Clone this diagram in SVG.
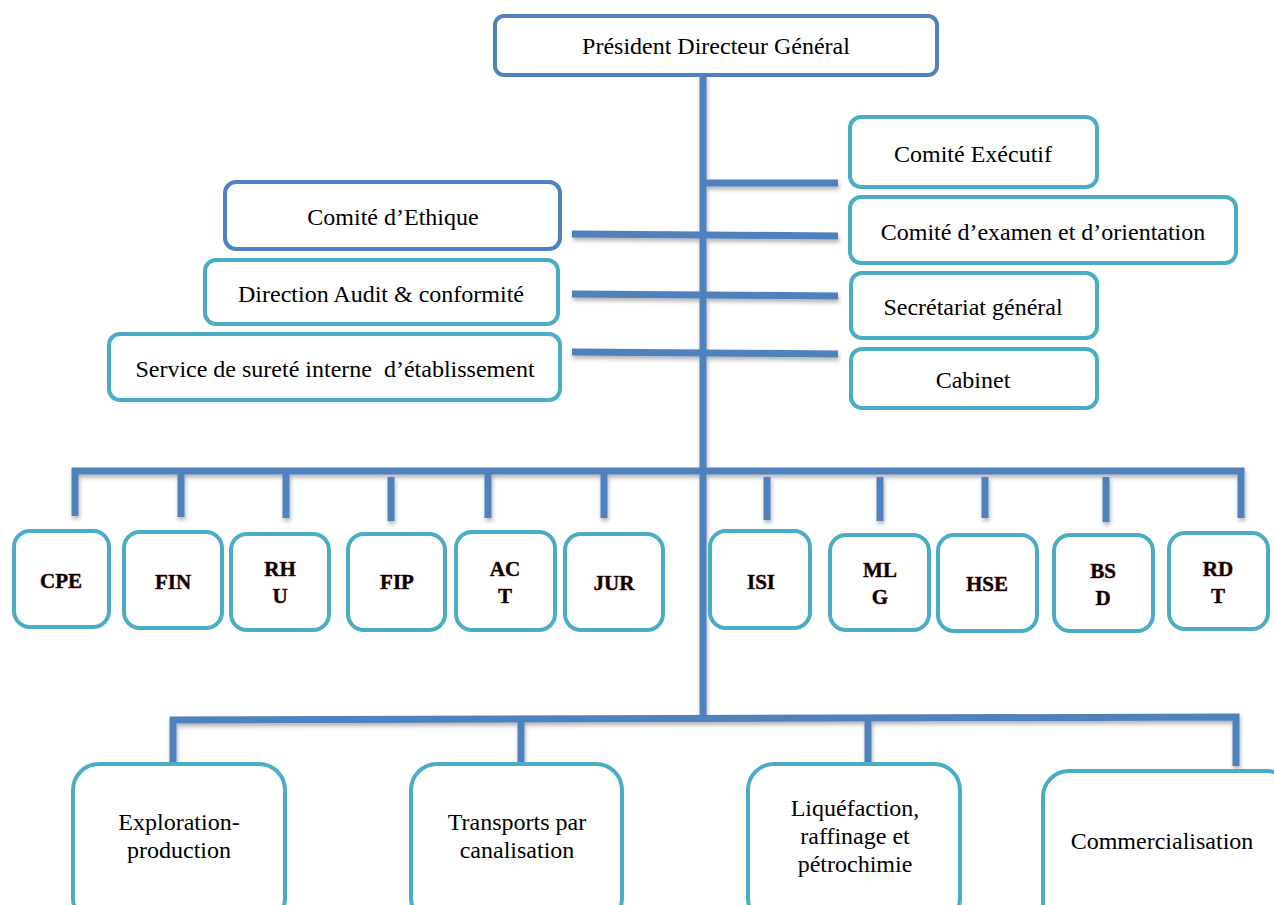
<svg xmlns="http://www.w3.org/2000/svg" width="1274" height="905" viewBox="0 0 1274 905">
  <style>
    .box { fill: #ffffff; stroke: #4BACC6; stroke-width: 4; }
    .box-dark { fill: #ffffff; stroke: #4F81BD; stroke-width: 4; }
    .lbl { font-family: "Liberation Serif", "Times New Roman", serif; font-size: 24px; fill: #000000; text-anchor: middle; }
    .code { font-family: "Liberation Serif", "Times New Roman", serif; font-size: 21px; font-weight: bold; fill: #0a0000; stroke: #8b1a1a; stroke-width: 0.5; paint-order: stroke; text-anchor: middle; }
    .wire { fill: none; stroke: #4F81BD; stroke-width: 7; stroke-linejoin: miter; stroke-linecap: butt; }
  </style>
  <defs>
    <filter id="shadow" x="-5%" y="-20%" width="110%" height="140%">
      <feDropShadow dx="1" dy="3" stdDeviation="2" flood-color="#000000" flood-opacity="0.3"/>
    </filter>
  </defs>

  <!-- connectors -->
  <g id="connectors" class="wire" filter="url(#shadow)">
    <path d="M703 75 V722"/>
    <path d="M703 183 H838"/>
    <path d="M572 234 L838 236"/>
    <path d="M572 294 L838 296"/>
    <path d="M572 352 L838 354"/>
    <!-- department bar -->
    <path d="M75 516 V471 H1241 V518"/>
    <path d="M181 471 V517"/>
    <path d="M286 471 V518"/>
    <path d="M391 477 V521"/>
    <path d="M488 471 V518"/>
    <path d="M604 471 V518"/>
    <path d="M767 477 V520"/>
    <path d="M880 477 V521"/>
    <path d="M985 477 V518"/>
    <path d="M1106 477 V522"/>
    <!-- activity bar -->
    <path d="M173 763 V720 L1236 717 V766"/>
    <path d="M521 719 V763"/>
    <path d="M868 718 V762"/>
  </g>

  <g id="pdg">
    <rect class="box-dark" x="495" y="16" width="442" height="59" rx="9"/>
    <text class="lbl" x="716" y="54">Président Directeur Général</text>
  </g>

  <g id="comite-executif">
    <rect class="box" x="850" y="117" width="247" height="70" rx="11"/>
    <text class="lbl" x="973" y="162">Comité Exécutif</text>
  </g>
  <g id="comite-examen">
    <rect class="box" x="850" y="197" width="386" height="66" rx="11"/>
    <text class="lbl" x="1043" y="240">Comité d’examen et d’orientation</text>
  </g>
  <g id="secretariat">
    <rect class="box" x="851" y="273" width="246" height="65" rx="11"/>
    <text class="lbl" x="973" y="315">Secrétariat général</text>
  </g>
  <g id="cabinet">
    <rect class="box" x="851" y="349" width="246" height="59" rx="11"/>
    <text class="lbl" x="973" y="388">Cabinet</text>
  </g>

  <g id="comite-ethique">
    <rect class="box-dark" x="225" y="182" width="335" height="67" rx="11"/>
    <text class="lbl" x="393" y="225">Comité d’Ethique</text>
  </g>
  <g id="audit">
    <rect class="box" x="205" y="260" width="353" height="64" rx="11"/>
    <text class="lbl" x="381" y="302">Direction Audit &amp; conformité</text>
  </g>
  <g id="surete">
    <rect class="box" x="109" y="334" width="451" height="66" rx="11"/>
    <text class="lbl" x="335" y="377" xml:space="preserve">Service de sureté interne  d’établissement</text>
  </g>

  <!-- departments -->
  <g id="cpe">
    <rect class="box" x="14" y="531" width="95" height="96" rx="16"/>
    <text class="code" x="61" y="588">CPE</text>
  </g>
  <g id="fin">
    <rect class="box" x="124" y="532" width="98" height="96" rx="16"/>
    <text class="code" x="173" y="589">FIN</text>
  </g>
  <g id="rhu">
    <rect class="box" x="231" y="534" width="98" height="96" rx="16"/>
    <text class="code" x="280" y="576">RH</text>
    <text class="code" x="280" y="603">U</text>
  </g>
  <g id="fip">
    <rect class="box" x="348" y="534" width="97" height="96" rx="16"/>
    <text class="code" x="397" y="589">FIP</text>
  </g>
  <g id="act">
    <rect class="box" x="456" y="532" width="99" height="98" rx="16"/>
    <text class="code" x="505" y="576">AC</text>
    <text class="code" x="505" y="603">T</text>
  </g>
  <g id="jur">
    <rect class="box" x="565" y="534" width="98" height="96" rx="16"/>
    <text class="code" x="614" y="590">JUR</text>
  </g>
  <g id="isi">
    <rect class="box" x="710" y="531" width="100" height="97" rx="16"/>
    <text class="code" x="761" y="589">ISI</text>
  </g>
  <g id="mlg">
    <rect class="box" x="830" y="535" width="99" height="95" rx="16"/>
    <text class="code" x="880" y="577">ML</text>
    <text class="code" x="880" y="604">G</text>
  </g>
  <g id="hse">
    <rect class="box" x="938" y="535" width="99" height="96" rx="16"/>
    <text class="code" x="987" y="591">HSE</text>
  </g>
  <g id="bsd">
    <rect class="box" x="1054" y="535" width="99" height="96" rx="16"/>
    <text class="code" x="1103" y="578">BS</text>
    <text class="code" x="1103" y="605">D</text>
  </g>
  <g id="rdt">
    <rect class="box" x="1169" y="533" width="99" height="96" rx="16"/>
    <text class="code" x="1218" y="576">RD</text>
    <text class="code" x="1218" y="603">T</text>
  </g>

  <!-- activities -->
  <g id="exploration">
    <rect class="box" x="73" y="764" width="212" height="160" rx="26"/>
    <text class="lbl" x="179" y="830">Exploration-</text>
    <text class="lbl" x="179" y="858">production</text>
  </g>
  <g id="transports">
    <rect class="box" x="411" y="764" width="211" height="160" rx="26"/>
    <text class="lbl" x="517" y="830">Transports par</text>
    <text class="lbl" x="517" y="858">canalisation</text>
  </g>
  <g id="liquefaction">
    <rect class="box" x="748" y="764" width="212" height="160" rx="26"/>
    <text class="lbl" x="855" y="816">Liquéfaction,</text>
    <text class="lbl" x="855" y="844">raffinage et</text>
    <text class="lbl" x="855" y="872">pétrochimie</text>
  </g>
  <g id="commercialisation">
    <rect class="box" x="1043" y="771" width="250" height="160" rx="26"/>
    <text class="lbl" x="1162" y="849">Commercialisation</text>
  </g>
</svg>
